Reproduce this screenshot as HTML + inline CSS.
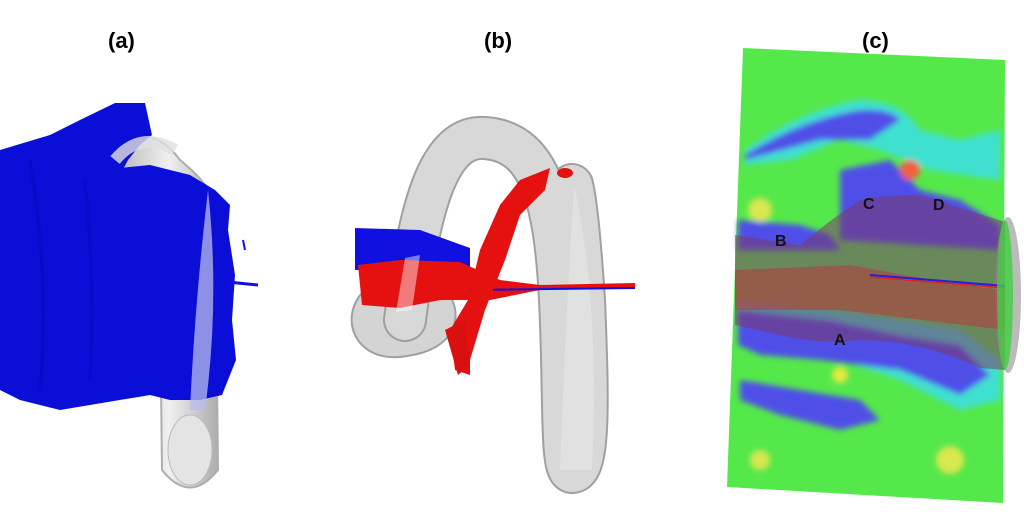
<!DOCTYPE html>
<html><head><style>
html,body{margin:0;padding:0;background:#fff;}
svg{display:block}
text{font-family:"Liberation Sans",sans-serif;font-weight:bold}
</style></head><body>
<svg width="1024" height="512" viewBox="0 0 1024 512" xmlns="http://www.w3.org/2000/svg">
<defs>
<linearGradient id="gr" x1="0" x2="1"><stop offset="0" stop-color="#b8b8b8"/><stop offset="0.5" stop-color="#f0f0f0"/><stop offset="1" stop-color="#a8a8a8"/></linearGradient>
<filter id="bl"><feGaussianBlur stdDeviation="3"/></filter>
</defs>
<text x="108" y="48" font-size="22">(a)</text>
<text x="484" y="48" font-size="22">(b)</text>
<text x="862" y="48" font-size="22">(c)</text>

<!-- Panel a -->
<path d="M120 150 Q150 120 180 160 Q205 180 215 200 L218 470 Q190 505 162 470 L160 300 Z" fill="url(#gr)" stroke="#aaa" stroke-width="2" opacity="0.95"/>
<ellipse cx="190" cy="450" rx="22" ry="35" fill="#e4e4e4" stroke="#bbb"/>
<path d="M0 150 L50 135 L80 120 L115 103 L145 103 L152 135 L140 145 L128 160 L120 175 L100 180 L100 170 L150 165 L190 175 L215 190 L230 205 L228 230 L235 275 L232 320 L236 360 L222 395 L200 400 L170 400 L150 395 L90 405 L60 410 L20 400 L0 390 Z" fill="#0b0ed6"/>
<path d="M30 160 Q50 280 40 390" stroke="#0608b8" stroke-width="3" fill="none" opacity="0.6"/>
<path d="M85 180 Q95 280 90 380" stroke="#0608b8" stroke-width="3" fill="none" opacity="0.5"/>
<path d="M208 190 Q220 300 205 410 L190 410 Q195 300 208 190 Z" fill="#b8bcec" opacity="0.75"/>
<line x1="228" y1="282" x2="258" y2="285" stroke="#1010e0" stroke-width="3"/>
<path d="M115 160 Q140 130 175 150" stroke="#e0e0e0" stroke-width="12" fill="none" opacity="0.8"/>
<path d="M243 240 L245 250" stroke="#1010e0" stroke-width="2"/>

<!-- Panel b -->
<g fill="none" stroke-linecap="round">
<path d="M420 298 C365 285,355 345,405 335 C440 330,440 310,425 300" stroke="#a0a0a0" stroke-width="44"/>
<path d="M420 298 C365 285,355 345,405 335 C440 330,440 310,425 300" stroke="#d4d4d4" stroke-width="40"/>
<path d="M405 320 C420 200,440 135,485 138 C540 142,555 200,560 300 C565 400,560 470,572 472 C590 472,588 400,584 300 C580 240,576 200,572 185" stroke="#a0a0a0" stroke-width="44"/>
<path d="M405 320 C420 200,440 135,485 138 C540 142,555 200,560 300 C565 400,560 470,572 472 C590 472,588 400,584 300 C580 240,576 200,572 185" stroke="#d8d8d8" stroke-width="40"/>
</g>
<path d="M574 185 Q600 300 592 470 L560 470 Q565 330 574 185 Z" fill="#e6e6e6" opacity="0.7"/>
<path d="M355 228 L420 230 L470 248 L470 268 L355 270 Z" fill="#1010e0"/>
<path d="M358 265 L400 260 L460 262 L500 280 L540 285 L635 283 L635 287 L540 290 L490 300 L440 300 L400 308 L362 305 Z" fill="#e51010"/>
<line x1="470" y1="290" x2="635" y2="288" stroke="#1010e0" stroke-width="2"/>
<path d="M480 250 L500 205 L520 180 L550 168 L545 190 L520 215 L505 260 L485 310 L470 360 L470 375 L455 370 L450 330 L468 300 Z" fill="#e51010"/>
<path d="M445 330 L465 320 L470 365 L458 375 Z" fill="#d81010"/>
<ellipse cx="565" cy="173" rx="8" ry="5" fill="#e51010"/>
<path d="M405 258 L420 255 L412 310 L396 312 Z" fill="#fff" opacity="0.45"/>

<!-- Panel c -->
<path d="M743 48 L1005 60 L1003 503 L727 487 Z" fill="#55e84a"/>
<g filter="url(#bl)">
<path d="M745 150 Q800 110 860 100 Q900 100 920 130 L960 140 L1000 130 L1000 180 L930 170 L880 150 L840 140 L790 160 L745 165 Z" fill="#40e0d0"/>
<path d="M745 155 Q800 120 860 110 Q890 108 900 120 L870 140 L820 140 L745 160 Z" fill="#5050e8"/>
<path d="M840 170 L890 160 L920 190 L960 200 L1000 225 L1000 250 L840 240 Z" fill="#5050e8"/>
<path d="M738 220 L800 225 L830 235 L840 250 L738 250 Z" fill="#5050e8"/>
<path d="M738 300 L830 310 L900 320 L960 330 L1000 360 L1000 400 L960 410 L900 380 L840 360 L780 350 L738 340 Z" fill="#40e0d0"/>
<path d="M738 310 L830 320 L900 335 L960 345 L990 375 L960 395 L900 370 L820 360 L760 355 L738 345 Z" fill="#5050e8"/>
<path d="M740 380 L800 390 L860 400 L880 420 L840 430 L780 415 L740 400 Z" fill="#5050e8"/>
<circle cx="910" cy="170" r="10" fill="#f06040"/>
<circle cx="840" cy="375" r="8" fill="#e8e840"/>
<circle cx="760" cy="210" r="12" fill="#d8e850"/>
<circle cx="950" cy="460" r="14" fill="#d8e850"/>
<circle cx="760" cy="460" r="10" fill="#d8e850"/>
</g>
<ellipse cx="1008" cy="295" rx="13" ry="78" fill="#bbb"/>
<path d="M735 235 L800 245 Q830 220 860 200 Q880 195 920 195 L1005 222 L1005 370 L980 368 Q920 340 860 340 Q820 345 780 335 L735 325 Z" fill="#7a3a6a" opacity="0.55"/>
<path d="M735 270 L850 265 L960 285 L1005 290 L1005 330 L840 310 L735 310 Z" fill="#b04040" opacity="0.6"/>
<line x1="870" y1="275" x2="1005" y2="286" stroke="#2020e0" stroke-width="2"/>
<line x1="870" y1="277" x2="1005" y2="288" stroke="#e02020" stroke-width="1.5"/>
<ellipse cx="1005" cy="295" rx="8" ry="75" fill="#40d040" opacity="0.8"/>
<text x="775" y="246" font-size="16" font-weight="normal" fill="#111">B</text>
<text x="863" y="209" font-size="16" font-weight="normal" fill="#111">C</text>
<text x="933" y="210" font-size="16" font-weight="normal" fill="#111">D</text>
<text x="834" y="345" font-size="16" font-weight="normal" fill="#111">A</text>
</svg>
</body></html>
